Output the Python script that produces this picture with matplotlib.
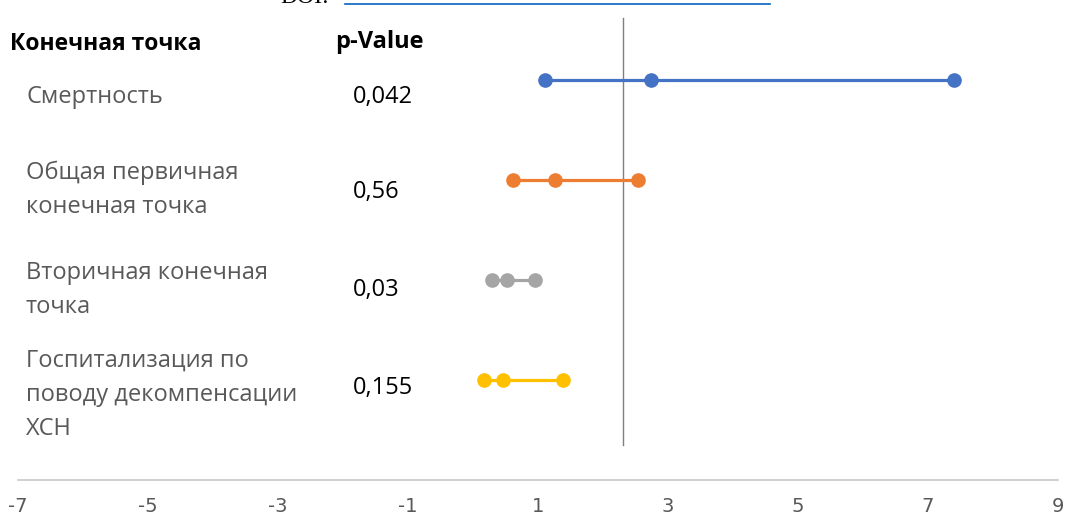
import matplotlib.pyplot as plt
from matplotlib.lines import Line2D

# forest-plot style chart: endpoints, p-values, three points per row
endpoints = [
    "Смертность",
    "Общая первичная\nконечная точка",
    "Вторичная конечная\nточка",
    "Госпитализация по\nповоду декомпенсации\nХСН",
]
p_values = ["0,042", "0,56", "0,03", "0,155"]
low = [1.1, 0.62, 0.29, 0.17]
mid = [2.74, 1.26, 0.52, 0.46]
high = [7.4, 2.54, 0.95, 1.38]
rows = [4, 3, 2, 1]
colors = ["#4472C4", "#ED7D31", "#A5A5A5", "#FFC000"]
ref_x = 2.3
xticks = [-7, -5, -3, -1, 1, 3, 5, 7, 9]

plt.rcParams["font.family"] = ["Open Sans", "DejaVu Sans"]

W, H = 1067, 520
fig = plt.figure(figsize=(W / 100, H / 100), dpi=100)
# axes: x -7..9 spans px 18..1058, y 0..4.8 spans px 480..0
ax = fig.add_axes([18 / W, (H - 480) / H, 1040 / W, 480 / H])
ax.set_xlim(-7, 9)
ax.set_ylim(0, 4.8)

for r, lo, m, hi, c in zip(rows, low, mid, high, colors):
    ax.plot([lo, m, hi], [r, r, r], color=c, lw=2.3, marker="o",
            markersize=9.5, solid_capstyle="butt", zorder=3)

ax.plot([ref_x, ref_x], [0.35, 4.62], color="#7f7f7f", lw=1.0, zorder=2)

for s in ["top", "right", "left"]:
    ax.spines[s].set_visible(False)
ax.spines["bottom"].set_color("#c8c8c8")
ax.spines["bottom"].set_linewidth(1.2)
ax.set_yticks([])
ax.set_xticks(xticks)
ax.set_xticklabels([str(t) for t in xticks], color="#595959", fontsize=14,
                   fontfamily=["Liberation Sans Narrow", "DejaVu Sans"])
ax.tick_params(axis="x", length=0, pad=12)


def fx(px):
    return px / W


def fy(py):
    return 1 - py / H


fig.text(fx(10), fy(44), "Конечная точка", fontsize=16.5, fontweight="bold",
         va="center", ha="left", color="black")
fig.text(fx(335), fy(42), "p-Value", fontsize=17, fontweight="bold",
         va="center", ha="left", color="black")

label_y = [97, 190, 290, 395]
pval_y = [97, 192, 290, 388]
for lab, ly, pv, py in zip(endpoints, label_y, p_values, pval_y):
    fig.text(fx(26), fy(ly), lab, fontsize=17, color="#595959",
             va="center", ha="left", linespacing=1.55)
    fig.text(fx(353), fy(py), pv, fontsize=17, color="black",
             va="center", ha="left")

# cropped DOI line at the very top (cut off in the source too)
fig.text(fx(280), fy(3), "DOI:", fontsize=17, color="black",
         fontfamily=["Liberation Serif"], va="baseline", ha="left")
fig.add_artist(Line2D([fx(345), fx(770)], [fy(4), fy(4)], color="#0563C1",
                      lw=1.2, transform=fig.transFigure))

fig.savefig("out.png", dpi=100)
